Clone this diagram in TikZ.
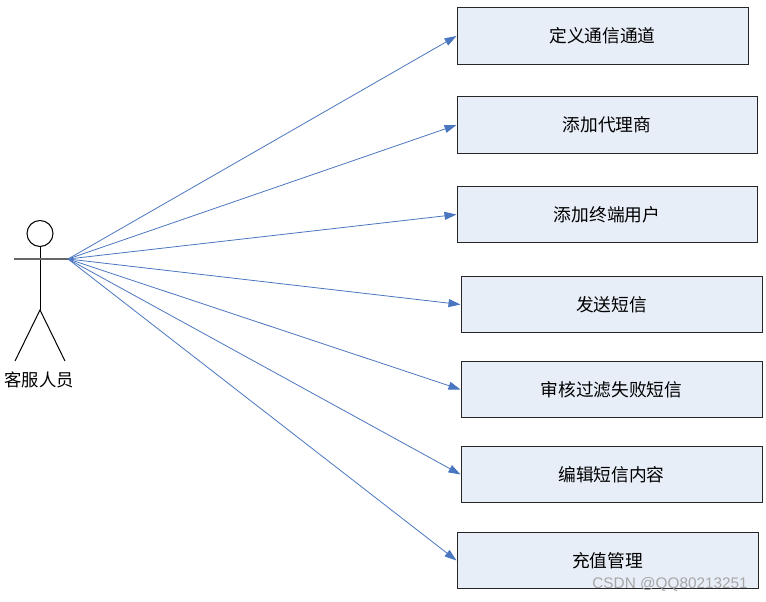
\documentclass[tikz,border=0pt]{standalone}
\usepackage{fontspec}
\setmainfont{Noto Sans CJK SC}
\newfontfamily\markfont{Liberation Sans}
\usetikzlibrary{arrows.meta}

\definecolor{boxfill}{HTML}{E8EEF8}
\definecolor{linkblue}{HTML}{4A76C0}

\tikzset{
	usecase/.style={draw=black!85, fill=boxfill, line width=0.75pt, minimum height=42.5pt, inner sep=0pt, font=\fontsize{13.3}{15}\selectfont},
	link/.style={draw=linkblue, line width=0.6pt, -{Triangle[length=9pt, width=6pt]}},
}

\begin{document}
\begin{tikzpicture}[x=0.75pt, y=-0.75pt]
	\useasboundingbox (0,0) rectangle (766,602);

	% actor
	\draw[line width=0.75pt] (40,233.5) circle (13);
	\draw[line width=0.75pt] (40,246.5) -- (40,310);
	\draw[line width=1.2pt, black!60] (14,259) -- (68,259);
	\draw[line width=0.75pt] (15,361) -- (40,310) -- (65,361);
	\coordinate (hand) at (68,259);
	\node (actor) at (39,380) {\fontsize{13}{15}\selectfont 客服人员};

	\foreach \n / \x / \y / \w / \txt in {1/602.5/36/218.25pt/定义通信通道, 2/607/125/225pt/添加代理商, 3/607/214.5/225pt/添加终端用户, 4/611.5/304.5/225.75pt/发送短信, 5/611.5/389.5/225.75pt/审核过滤失败短信, 6/611.5/474.5/225.75pt/编辑短信内容, 7/607.5/560.5/225.75pt/充值管理}{
		\node[usecase, minimum width=\w] (uc\n) at (\x,\y) {\txt};
		\draw[link] (hand) -- (uc\n.west);}

	\node[text=black!35, font=\fontsize{11.5}{13}\markfont, anchor=base east, inner sep=0pt] (mark) at (748,588) {CSDN @QQ80213251};

\end{tikzpicture}
\end{document}
